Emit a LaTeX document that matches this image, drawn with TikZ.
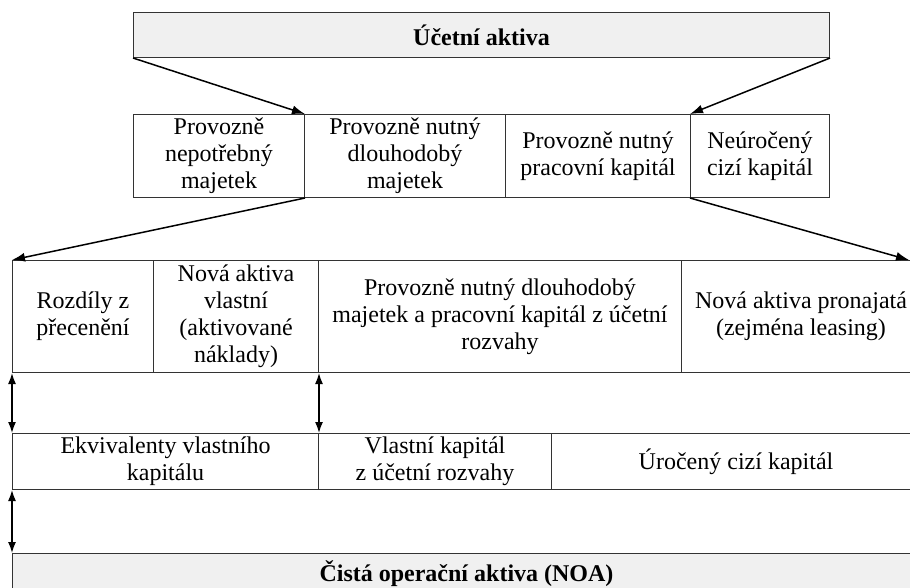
\documentclass[tikz,border=0pt]{standalone}
\usepackage{fontspec}
\setmainfont{Liberation Serif}
\usetikzlibrary{arrows.meta}
\definecolor{titlegray}{RGB}{240,240,240}

\begin{document}
\begin{tikzpicture}[x=1pt,y=-1pt,
  cell/.style={draw=black!80, line width=1pt, inner sep=0pt, anchor=north west,
    align=center, font=\fontsize{24}{27}\selectfont},
  titlecell/.style={cell, fill=titlegray, font=\fontsize{24}{27}\selectfont\bfseries},
  flow/.style={line width=1.5pt, -{Latex[length=13pt,width=9pt]}},
  span/.style={line width=1.5pt, {Latex[length=11pt,width=8pt]}-{Latex[length=11pt,width=8pt]}}]

% Page size, the cells on the right run off the page
\fill[white] (0,0) rectangle (910,587);
\clip (0,0) rectangle (910,587);

% Accounting assets on top
\node[titlecell, minimum width=696, minimum height=45] (ucet) at (133,12) {Účetní aktiva};

% Second row
\node[cell, minimum width=171, minimum height=83] (nepotr) at (133,114) {Provozně\\nepotřebný\\majetek};
\node[cell, minimum width=201, minimum height=83] (dlouh) at (304,114) {Provozně nutný\\dlouhodobý\\majetek};
\node[cell, minimum width=185, minimum height=83] (prac) at (505,114) {Provozně nutný\\pracovní kapitál};
\node[cell, minimum width=139, minimum height=83] (neur) at (690,114) {Neúročený\\cizí kapitál};

% Third row
\node[cell, minimum width=141, minimum height=112] (preceneni) at (12,260) {Rozdíly z\\přecenění};
\node[cell, minimum width=165, minimum height=112] (vlastni) at (153,260) {Nová aktiva\\vlastní\\(aktivované\\náklady)};
\node[cell, minimum width=363, minimum height=112] (rozvaha) at (318,260) {Provozně nutný dlouhodobý\\majetek a pracovní kapitál z účetní\\rozvahy};
\node[cell, minimum width=239, minimum height=112] (pronaj) at (681,260) {Nová aktiva pronajatá\\(zejména leasing)};

% Fourth row
\node[cell, minimum width=306, minimum height=56] (ekviv) at (12,433) {Ekvivalenty vlastního\\kapitálu};
\node[cell, minimum width=233, minimum height=56] (vk) at (318,433) {Vlastní kapitál\\z účetní rozvahy};
\node[cell, minimum width=369, minimum height=56] (uroc) at (551,433) {Úročený cizí kapitál};

% Net operating assets at the bottom
\node[titlecell, minimum width=908, minimum height=40] (noa) at (12,553) {Čistá operační aktiva (NOA)};

\coordinate (kraj) at (909,260);

% Draw the arrows between the rows
\draw[flow] (ucet.south west) -- (nepotr.north east);
\draw[flow] (ucet.south east) -- (neur.north west);
\draw[flow] (nepotr.south east) -- (preceneni.north west);
\draw[flow] (neur.south west) -- (kraj);

\draw[span] (preceneni.south west) -- (ekviv.north west);
\draw[span] (vlastni.south east) -- (ekviv.north east);
\draw[span] (ekviv.south west) -- (noa.north west);

\end{tikzpicture}
\end{document}
